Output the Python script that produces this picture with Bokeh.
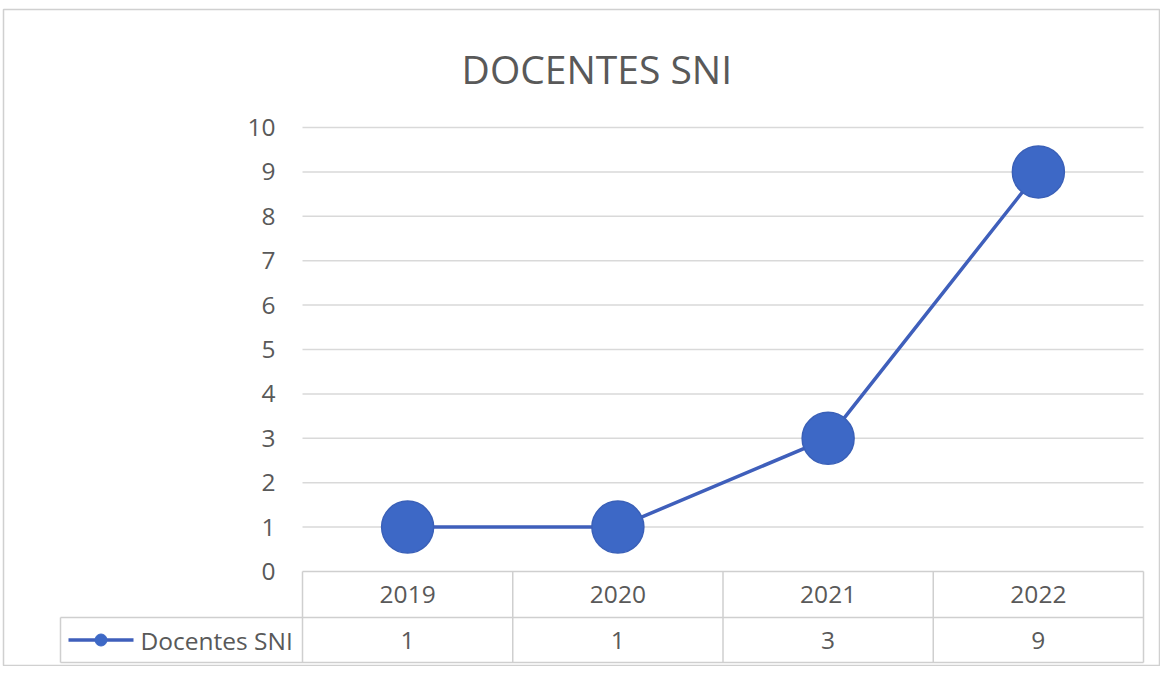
from bokeh.plotting import figure
from bokeh.models import ColumnDataSource, Range1d
from bokeh.core.properties import value
from bokeh.embed import file_html
from bokeh.resources import INLINE

# ---- data ----
years = ["2019", "2020", "2021", "2022"]
docentes_sni = [1, 1, 3, 9]
y_ticks = [0, 1, 2, 3, 4, 5, 6, 7, 8, 9, 10]
series_name = "Docentes SNI"
title_text = "DOCENTES SNI"

# ---- style ----
FONT = value("Open Sans")
TXT = "#595959"
GRID = "#d9d9d9"
TABLE = "#cfcfcf"
BLUE = "#3d68c6"
LINE_BLUE = "#3f5fbb"
FS = "24.5px"

W, H = 1160, 666
ML, MT = 3, 9
FW, FH = W - ML, H - MT
px_x = 210.25  # px per category
px_y = 44.4    # px per unit
x0 = -0.5 - (302 - ML) / px_x
y1 = (571 - MT) / px_y
p = figure(width=W, height=H, output_backend="svg", toolbar_location=None,
           x_range=Range1d(x0, x0 + FW / px_x), y_range=Range1d(y1 - FH / px_y, y1),
           min_border_left=ML, min_border_top=MT, min_border_right=0, min_border_bottom=0)
p.axis.visible = False
p.grid.visible = False
p.outline_line_color = "#d0d0d0"
p.outline_line_width = 1.5
p.background_fill_color = "white"

n = len(years)
xs = list(range(n))
left = -0.5
right = n - 0.5
row1 = -46 / px_y
row2 = -91 / px_y
leg_left = -0.5 - 242 / px_x

# gridlines (from y ticks)
gt = [t for t in y_ticks if t > 0]
p.segment(x0=[left] * len(gt), x1=[right] * len(gt), y0=gt, y1=gt,
          line_color=GRID, line_width=1.5)

# y tick labels
p.text(x=[-0.5 - 27 / px_x] * len(y_ticks), y=y_ticks, text=[str(t) for t in y_ticks],
       text_align="right", text_baseline="middle", text_font=FONT,
       text_font_size=FS, text_color=TXT)

# table lines
p.segment(x0=[left, leg_left, leg_left], x1=[right, right, right],
          y0=[0, row1, row2], y1=[0, row1, row2], line_color=TABLE, line_width=1.5)
vx = [left + i for i in range(n + 1)]
p.segment(x0=vx, x1=vx, y0=[0] * len(vx), y1=[row2] * len(vx),
          line_color=TABLE, line_width=1.5)
p.segment(x0=[leg_left], x1=[leg_left], y0=[row1], y1=[row2],
          line_color=TABLE, line_width=1.5)

# table text
p.text(x=xs, y=[row1 / 2] * n, text=years, text_align="center", text_baseline="middle",
       text_font=FONT, text_font_size=FS, text_color=TXT)
p.text(x=xs, y=[(row1 + row2) / 2] * n, text=[str(v) for v in docentes_sni],
       text_align="center", text_baseline="middle",
       text_font=FONT, text_font_size=FS, text_color=TXT)

# legend key in table
ly = (row1 + row2) / 2
lx0 = -0.5 - 234 / px_x
lx1 = -0.5 - 169 / px_x
p.line(x=[lx0, lx1], y=[ly, ly], line_color=LINE_BLUE, line_width=3.5)
p.scatter(x=[(lx0 + lx1) / 2], y=[ly], size=12, fill_color=BLUE, line_color=BLUE)
p.text(x=[-0.5 - 162 / px_x], y=[ly], text=[series_name], text_align="left",
       text_baseline="middle", text_font=FONT, text_font_size=FS, text_color=TXT)

# series
src = ColumnDataSource(dict(x=xs, y=docentes_sni))
p.line("x", "y", source=src, line_color=LINE_BLUE, line_width=3.5)
p.scatter("x", "y", source=src, size=52, fill_color=BLUE, line_color="#3a60b8",
          line_width=1.5)

# title
p.text(x=[(left + right) / 2 - 0.6], y=[503 / px_y], text=[title_text],
       text_align="center", text_baseline="middle", text_font=FONT,
       text_font_size="39px", text_color=TXT)

open("out.html", "w").write(file_html(p, INLINE))
